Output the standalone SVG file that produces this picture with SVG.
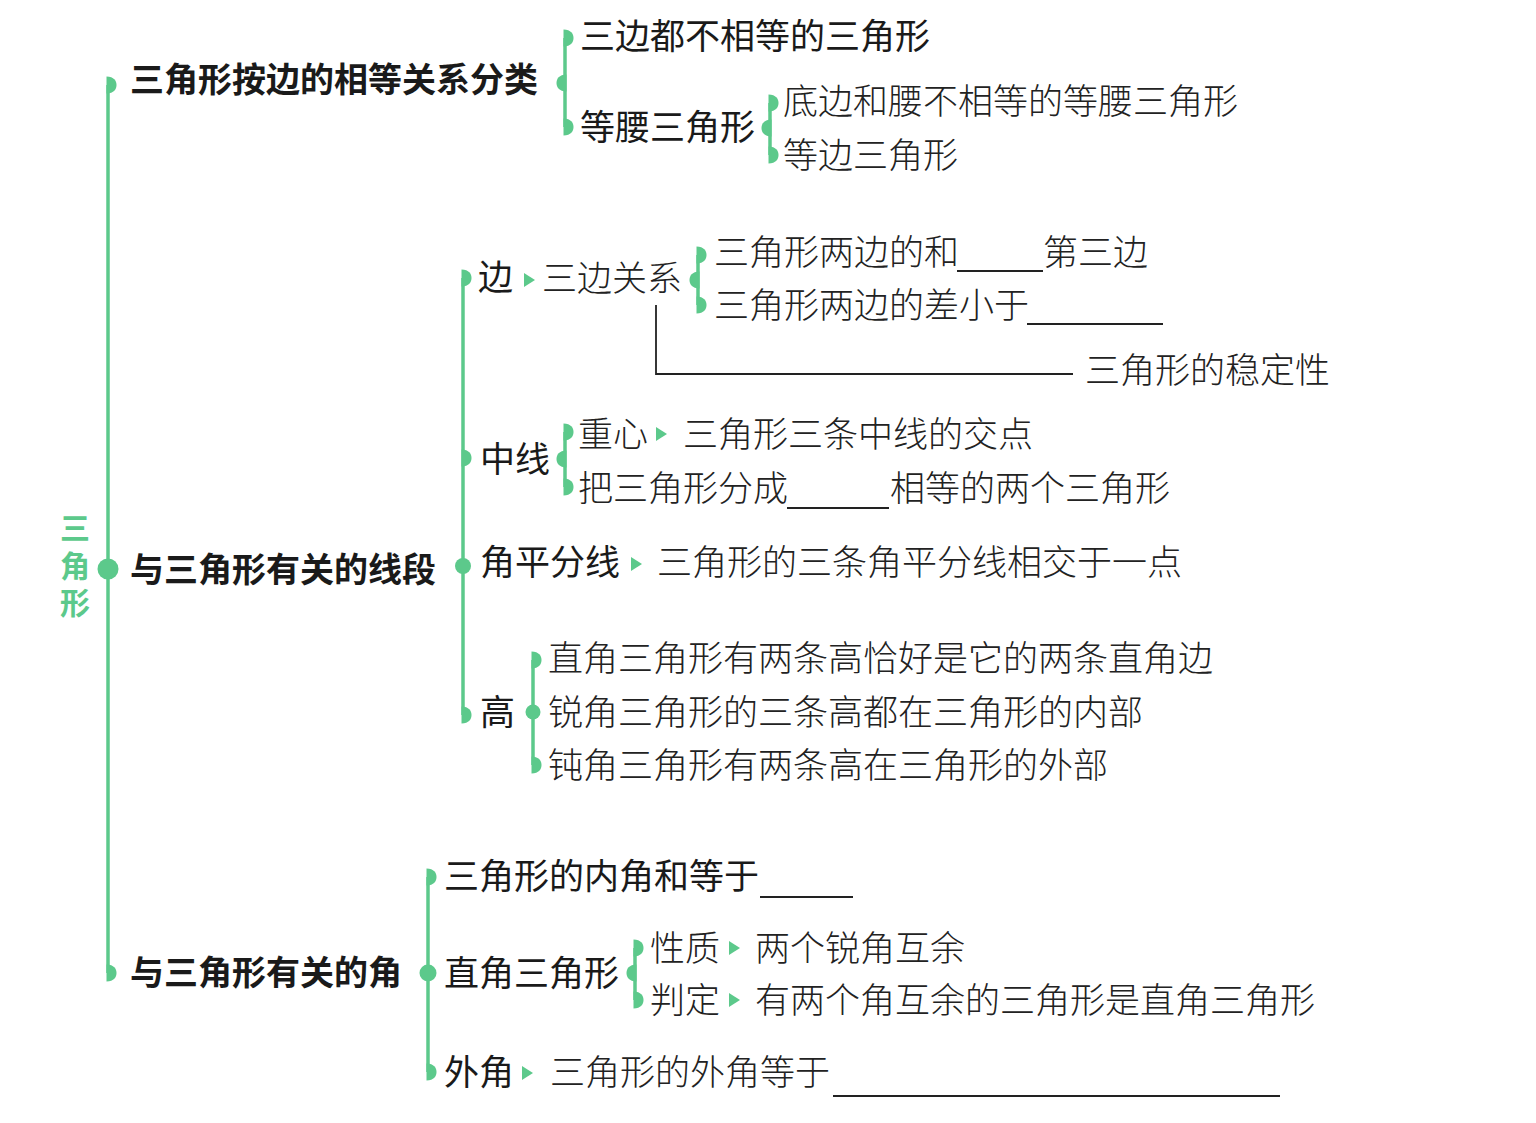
<svg xmlns="http://www.w3.org/2000/svg" width="1536" height="1123" viewBox="0 0 1536 1123">
<style>
text{font-family:"Noto Sans CJK SC","Noto Sans",sans-serif;dominant-baseline:central;fill:#1a1a1a}
.b{font-size:34px;font-weight:700}
.m{font-size:35px;font-weight:400}
.s{font-size:35px;font-weight:300;fill:#222}
.root{font-size:30px;font-weight:700;fill:#5cc98b;writing-mode:vertical-rl;letter-spacing:7.5px}
.g{stroke:#5cc98b;stroke-width:3.5;fill:none}
.k{stroke:#222;stroke-width:1.8;fill:none}
.gf{fill:#5cc98b}
</style>
<defs>
<path id="tr" d="M-1.5,-8.5 C6,-8.5 8.5,-4 8.5,0 C8.5,4 6,8.5 -1.5,8.5 Z" fill="#5cc98b"/>
<path id="tl" d="M1.5,-8.5 C-6,-8.5 -8.5,-4 -8.5,0 C-8.5,4 -6,8.5 1.5,8.5 Z" fill="#5cc98b"/>
<path id="ar" d="M0,-7 L11,0 L0,7 Z" fill="#5cc98b"/>
</defs>
<rect width="1536" height="1123" fill="#fff"/>
<g id="connectors">
<line class="g" x1="108" y1="85" x2="108" y2="973"/>
<use href="#tr" x="108" y="85"/><use href="#tr" x="108" y="973"/>
<circle class="gf" cx="108" cy="569" r="10.5"/>
<line class="g" x1="565" y1="38" x2="565" y2="127"/>
<use href="#tr" x="565" y="38"/><use href="#tr" x="565" y="127"/><use href="#tl" x="565" y="83"/>
<line class="g" x1="770" y1="103" x2="770" y2="155"/>
<use href="#tr" x="770" y="103"/><use href="#tr" x="770" y="155"/><use href="#tl" x="770" y="128"/>
<line class="g" x1="463" y1="278" x2="463" y2="715"/>
<use href="#tr" x="463" y="278"/><use href="#tr" x="463" y="458"/><use href="#tr" x="463" y="715"/>
<circle class="gf" cx="463" cy="566" r="8"/>
<line class="g" x1="698" y1="255" x2="698" y2="305"/>
<use href="#tr" x="698" y="255"/><use href="#tr" x="698" y="305"/><use href="#tl" x="698" y="280"/>
<line class="g" x1="565" y1="432" x2="565" y2="487"/>
<use href="#tr" x="565" y="432"/><use href="#tr" x="565" y="487"/><use href="#tl" x="565" y="459"/>
<line class="g" x1="533" y1="660" x2="533" y2="765"/>
<use href="#tr" x="533" y="660"/><use href="#tr" x="533" y="765"/>
<circle class="gf" cx="533" cy="712" r="7.5"/>
<line class="g" x1="428" y1="877" x2="428" y2="1072"/>
<use href="#tr" x="428" y="877"/><use href="#tr" x="428" y="1072"/>
<circle class="gf" cx="428" cy="973" r="8.5"/>
<line class="g" x1="635" y1="948" x2="635" y2="1000"/>
<use href="#tr" x="635" y="948"/><use href="#tr" x="635" y="1000"/><use href="#tl" x="635" y="973"/>
<use href="#ar" x="524" y="280"/>
<use href="#ar" x="656" y="434"/>
<use href="#ar" x="631" y="564"/>
<use href="#ar" x="729" y="948"/>
<use href="#ar" x="729" y="1000"/>
<use href="#ar" x="522" y="1073"/>
<path class="k" d="M656,305 V374 H1073"/>
</g>
<g id="root">
<text class="root" x="75" y="513">三角形</text>
</g>
<g id="n-side-class"><text class="b" x="130" y="77">三角形按边的相等关系分类</text></g>
<g id="n-scalene"><text class="m" x="580" y="33">三边都不相等的三角形</text></g>
<g id="n-isosceles"><text class="m" x="580" y="124">等腰三角形</text></g>
<g id="n-iso1"><text class="s" x="783" y="98">底边和腰不相等的等腰三角形</text></g>
<g id="n-iso2"><text class="s" x="783" y="152">等边三角形</text></g>

<g id="n-segments"><text class="b" x="130" y="567">与三角形有关的线段</text></g>
<g id="n-side"><text class="m" x="478" y="274">边</text></g>
<g id="n-side-rel"><text class="s" x="542" y="275">三边关系</text></g>
<g id="n-sum"><text class="s" x="714" y="249">三角形两边的和<tspan x="1043">第三边</tspan></text><line class="k" x1="957" y1="271" x2="1043" y2="271"/></g>
<g id="n-diff"><text class="s" x="714" y="302">三角形两边的差小于</text><line class="k" x1="1027" y1="324" x2="1163" y2="324"/></g>
<g id="n-stable"><text class="s" x="1085" y="367">三角形的稳定性</text></g>
<g id="n-median"><text class="m" x="480" y="456">中线</text></g>
<g id="n-centroid"><text class="s" x="578" y="431">重心</text></g>
<g id="n-centroid-def"><text class="s" x="683" y="431">三角形三条中线的交点</text></g>
<g id="n-median-area"><text class="s" x="578" y="485">把三角形分成<tspan x="890">相等的两个三角形</tspan></text><line class="k" x1="787" y1="508" x2="889" y2="508"/></g>
<g id="n-bisector"><text class="m" x="480" y="559">角平分线</text></g>
<g id="n-bisector-def"><text class="s" x="657" y="559">三角形的三条角平分线相交于一点</text></g>
<g id="n-height"><text class="m" x="480" y="709">高</text></g>
<g id="n-h1"><text class="s" x="548" y="655">直角三角形有两条高恰好是它的两条直角边</text></g>
<g id="n-h2"><text class="s" x="548" y="709">锐角三角形的三条高都在三角形的内部</text></g>
<g id="n-h3"><text class="s" x="548" y="762">钝角三角形有两条高在三角形的外部</text></g>

<g id="n-angles"><text class="b" x="130" y="970">与三角形有关的角</text></g>
<g id="n-interior"><text class="m" x="444" y="873">三角形的内角和等于</text><line class="k" x1="760" y1="897" x2="853" y2="897"/></g>
<g id="n-right"><text class="m" x="444" y="970">直角三角形</text></g>
<g id="n-prop"><text class="s" x="650" y="945">性质</text></g>
<g id="n-prop-def"><text class="s" x="755" y="945">两个锐角互余</text></g>
<g id="n-judge"><text class="s" x="650" y="997">判定</text></g>
<g id="n-judge-def"><text class="s" x="755" y="997">有两个角互余的三角形是直角三角形</text></g>
<g id="n-exterior"><text class="m" x="444" y="1069">外角</text></g>
<g id="n-exterior-def"><text class="s" x="550" y="1069">三角形的外角等于</text><line class="k" x1="833" y1="1096" x2="1280" y2="1096"/></g>
</svg>
